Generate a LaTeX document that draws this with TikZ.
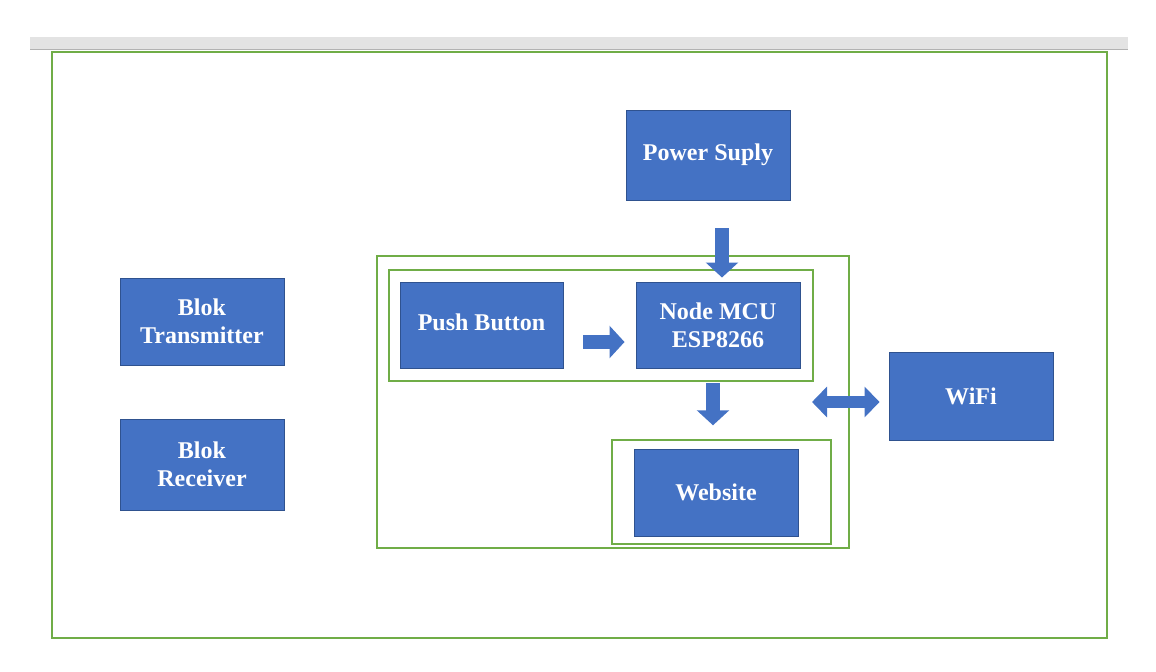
\documentclass[tikz,border=0pt]{standalone}
\usepackage{fontspec}
\setmainfont{Liberation Serif}
\usetikzlibrary{arrows.meta,positioning}
\definecolor{offblue}{HTML}{4472C4}
\definecolor{offdark}{HTML}{2F528F}
\definecolor{offgreen}{HTML}{70AD47}
\definecolor{bargray}{HTML}{E3E3E3}
\begin{document}
\begin{tikzpicture}[x=0.03cm,y=-0.03cm,
blok/.style={draw=offdark,line width=.8pt,fill=offblue,text=white,align=center,font=\bfseries\fontsize{20.5}{24}\selectfont,minimum width=4.92cm},
frame/.style={draw=offgreen,line width=1.2pt},
blk/.style={line width=.42cm,draw=offblue,-{Triangle[width=.95cm,length=.45cm]}},
blk2/.style={line width=.36cm,draw=offblue,{Triangle[width=.9cm,length=.45cm]}-{Triangle[width=.9cm,length=.45cm]}}]

\useasboundingbox(0,0)rectangle(1156,671);
\fill[bargray](30,37)rectangle(1128,49);
\draw[gray!60,line width=.5pt](30,49)--(1128,49);
\node[frame,minimum width=31.65cm,minimum height=17.58cm](page)at(579.5,345){};

\node[frame,minimum width=14.16cm,minimum height=8.76cm](sys)at(613,402){};
\node[frame,minimum width=12.72cm,minimum height=3.33cm](inp)at(601,325.5){};
\node[frame,minimum width=6.57cm,minimum height=3.12cm](web)at(721.5,492){};

\node[blok,minimum height=2.7cm](power)at(708,155){Power Suply};
\node[blok,minimum width=4.89cm,minimum height=2.58cm](push)at(481.5,325){\raisebox{.2cm}{Push Button}};
\node[blok,minimum height=2.58cm](mcu)at(718,325){Node MCU\\ESP8266};
\node[blok,minimum height=2.61cm](site)at(716,492.5){Website};
\node[blok,minimum height=2.64cm](wifi)at(971,396){WiFi};
\node[blok,minimum height=2.61cm](tx)at(202,321.5){Blok\\Transmitter};
\node[blok,minimum height=2.73cm](rx)at(202,464.5){Blok\\Receiver};

\draw[blk,shorten <=.84cm,shorten >=.12cm]([xshift=.12cm]mcu.north|-power.south)--([xshift=.12cm]mcu.north);
\draw[blk,shorten <=.6cm,shorten >=.33cm]([yshift=-.51cm]push.east)--([yshift=-.51cm]mcu.west);
\draw[blk,shorten <=.45cm,shorten >=.42cm]([xshift=-.15cm]mcu.south)--([xshift=-.15cm]mcu.south|-web.north);
\coordinate(wl)at(812,402);
\draw[blk2,shorten >=.27cm](wl)--(wl-|wifi.west);
\end{tikzpicture}
\end{document}
